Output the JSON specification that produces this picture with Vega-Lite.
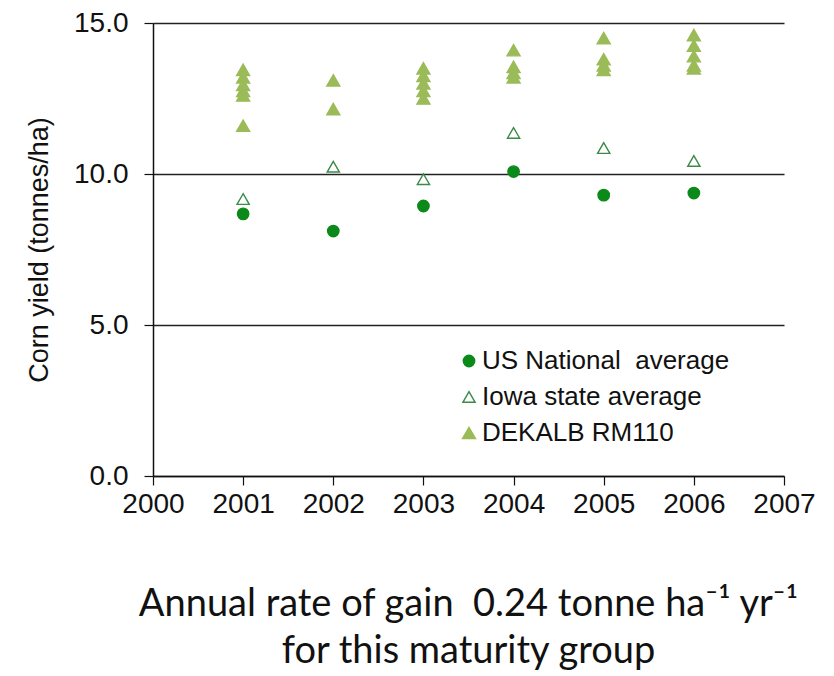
{
  "$schema": "https://vega.github.io/schema/vega-lite/v6.json",
  "autosize": "none",
  "width": 631,
  "height": 453,
  "padding": {"left": 153, "top": 23, "right": 50, "bottom": 200},
  "background": "white",
  "config": {
    "view": {"stroke": null},
    "font": "Liberation Sans"
  },
  "title": {
    "text": ["Annual rate of gain\u00a0 0.24 tonne ha⁻¹ yr⁻¹", "for this maturity group"],
    "orient": "bottom",
    "anchor": "middle",
    "font": "Lato",
    "fontSize": 38,
    "fontWeight": "normal",
    "color": "#111",
    "lineHeight": 47,
    "offset": 68
  },
  "data": {
    "values": [
      {"year": 2001, "series": "US National\u00a0 average", "yield": 8.68},
      {"year": 2002, "series": "US National\u00a0 average", "yield": 8.11},
      {"year": 2003, "series": "US National\u00a0 average", "yield": 8.94},
      {"year": 2004, "series": "US National\u00a0 average", "yield": 10.08},
      {"year": 2005, "series": "US National\u00a0 average", "yield": 9.30},
      {"year": 2006, "series": "US National\u00a0 average", "yield": 9.37},
      {"year": 2001, "series": "Iowa state average", "yield": 9.17},
      {"year": 2002, "series": "Iowa state average", "yield": 10.24},
      {"year": 2003, "series": "Iowa state average", "yield": 9.83},
      {"year": 2004, "series": "Iowa state average", "yield": 11.36},
      {"year": 2005, "series": "Iowa state average", "yield": 10.86},
      {"year": 2006, "series": "Iowa state average", "yield": 10.43},
      {"year": 2001, "series": "DEKALB RM110", "yield": 13.45},
      {"year": 2001, "series": "DEKALB RM110", "yield": 13.2},
      {"year": 2001, "series": "DEKALB RM110", "yield": 12.95},
      {"year": 2001, "series": "DEKALB RM110", "yield": 12.75},
      {"year": 2001, "series": "DEKALB RM110", "yield": 12.6},
      {"year": 2001, "series": "DEKALB RM110", "yield": 11.6},
      {"year": 2002, "series": "DEKALB RM110", "yield": 13.1},
      {"year": 2002, "series": "DEKALB RM110", "yield": 12.15},
      {"year": 2003, "series": "DEKALB RM110", "yield": 13.5},
      {"year": 2003, "series": "DEKALB RM110", "yield": 13.25},
      {"year": 2003, "series": "DEKALB RM110", "yield": 13.0},
      {"year": 2003, "series": "DEKALB RM110", "yield": 12.75},
      {"year": 2003, "series": "DEKALB RM110", "yield": 12.5},
      {"year": 2004, "series": "DEKALB RM110", "yield": 14.1},
      {"year": 2004, "series": "DEKALB RM110", "yield": 13.55},
      {"year": 2004, "series": "DEKALB RM110", "yield": 13.35},
      {"year": 2004, "series": "DEKALB RM110", "yield": 13.2},
      {"year": 2005, "series": "DEKALB RM110", "yield": 14.5},
      {"year": 2005, "series": "DEKALB RM110", "yield": 13.8},
      {"year": 2005, "series": "DEKALB RM110", "yield": 13.6},
      {"year": 2005, "series": "DEKALB RM110", "yield": 13.45},
      {"year": 2006, "series": "DEKALB RM110", "yield": 14.6},
      {"year": 2006, "series": "DEKALB RM110", "yield": 14.25},
      {"year": 2006, "series": "DEKALB RM110", "yield": 13.9},
      {"year": 2006, "series": "DEKALB RM110", "yield": 13.6},
      {"year": 2006, "series": "DEKALB RM110", "yield": 13.5}
    ]
  },
  "mark": {"type": "point", "filled": false, "strokeWidth": 1.4, "opacity": 1},
  "encoding": {
    "x": {
      "field": "year",
      "type": "quantitative",
      "scale": {"domain": [2000, 2007], "nice": false, "zero": false},
      "axis": {
        "values": [2000, 2001, 2002, 2003, 2004, 2005, 2006, 2007],
        "format": "d",
        "title": null,
        "grid": false,
        "labelFont": "Liberation Sans",
        "labelFontSize": 28,
        "labelColor": "#111",
        "labelPadding": 5,
        "tickSize": 9,
        "tickColor": "#111",
        "tickWidth": 1.2,
        "domainColor": "#111",
        "domainWidth": 1.5,
        "labelFlush": false,
        "labelOverlap": false
      }
    },
    "y": {
      "field": "yield",
      "type": "quantitative",
      "scale": {"domain": [0, 15], "nice": false},
      "axis": {
        "values": [0, 5, 10, 15],
        "format": ".1f",
        "title": "Corn yield (tonnes/ha)",
        "titleFont": "Liberation Sans",
        "titleFontSize": 27,
        "titleFontWeight": "normal",
        "titleColor": "#111",
        "titlePadding": 20,
        "labelFont": "Liberation Sans",
        "labelFontSize": 28,
        "labelColor": "#111",
        "labelPadding": 16,
        "tickSize": 9,
        "tickColor": "#111",
        "tickWidth": 1.2,
        "domainColor": "#111",
        "domainWidth": 1.5,
        "grid": true,
        "gridColor": "#222",
        "gridWidth": 1.3
      }
    },
    "shape": {
      "field": "series",
      "type": "nominal",
      "scale": {
        "domain": ["US National\u00a0 average", "Iowa state average", "DEKALB RM110"],
        "range": ["circle", "triangle-up", "triangle-up"]
      },
      "legend": {
        "title": null,
        "orient": "none",
        "legendX": 303,
        "legendY": 325,
        "labelFont": "Liberation Sans",
        "labelFontSize": 26,
        "labelColor": "#111",
        "labelOffset": 0,
        "labelLimit": 400,
        "rowPadding": 10,
        "symbolStrokeWidth": 1.4
      }
    },
    "fill": {
      "field": "series",
      "type": "nominal",
      "scale": {
        "domain": ["US National\u00a0 average", "Iowa state average", "DEKALB RM110"],
        "range": ["#0b8a1a", "#ffffff", "#9bbb59"]
      }
    },
    "stroke": {
      "field": "series",
      "type": "nominal",
      "scale": {
        "domain": ["US National\u00a0 average", "Iowa state average", "DEKALB RM110"],
        "range": ["#0b8a1a", "#3b8a4a", "#9bbb59"]
      }
    },
    "size": {
      "field": "series",
      "type": "nominal",
      "scale": {
        "domain": ["US National\u00a0 average", "Iowa state average", "DEKALB RM110"],
        "range": [130, 170, 330]
      }
    }
  }
}
